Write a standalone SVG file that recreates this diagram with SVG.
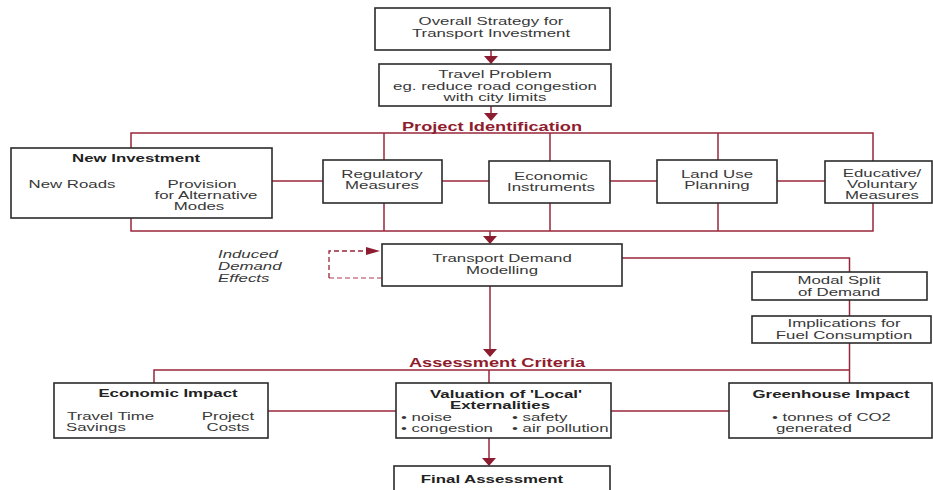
<svg xmlns="http://www.w3.org/2000/svg" width="933" height="490" viewBox="0 0 933 490">
<style>
  .box { fill: #ffffff; stroke: #2b2b2b; stroke-width: 1.6; }
  .ln { fill: none; stroke: #98263b; stroke-width: 1.5; }
  .dash { fill: none; stroke: #98263b; stroke-width: 1.3; stroke-dasharray: 5,3; }
  .dash2 { fill: none; stroke: #c77d8a; stroke-width: 1.3; stroke-dasharray: 5,3; }
  .ah { fill: #8c1c30; }
  text { font-family: "Liberation Sans", Arial, sans-serif; font-size: 11px; fill: #383838; }
  .m { text-anchor: middle; }
  .l { text-anchor: start; }
  .b { font-weight: bold; fill: #222222; }
  .hd { font-weight: bold; font-size: 12px; fill: #8f1d2e; text-anchor: middle; }
  .i { font-style: italic; }
</style>

<g id="connectors">
  <path class="ln" d="M491,50 V57"/>
  <polygon class="ah" points="484,56 498,56 491,64"/>
  <path class="ln" d="M491,106 V114"/>
  <polygon class="ah" points="484,113 498,113 491,121"/>
  <path class="ln" d="M131,148 V133 H873 V161"/>
  <path class="ln" d="M384,133 V160"/>
  <path class="ln" d="M550,133 V161"/>
  <path class="ln" d="M718,133 V160"/>
  <path class="ln" d="M272,181 H825"/>
  <path class="ln" d="M131,218 V231 H873 V203"/>
  <path class="ln" d="M384,203 V231"/>
  <path class="ln" d="M550,203 V231"/>
  <path class="ln" d="M718,203 V231"/>
  <path class="ln" d="M490,231 V237"/>
  <polygon class="ah" points="483,236 497,236 490,244"/>
  <path class="dash2" d="M382,278 H329"/>
  <path class="dash" d="M329,278 V251 H367"/>
  <polygon class="ah" points="366,247 366,255 380,251"/>
  <path class="ln" d="M490,286 V350"/>
  <polygon class="ah" points="483,349 497,349 490,357"/>
  <path class="ln" d="M622,258 H849.5 V272"/>
  <path class="ln" d="M849.5,300 V316"/>
  <path class="ln" d="M849.5,343 V383"/>
  <path class="ln" d="M154,383 V370 H849.5"/>
  <path class="ln" d="M489,370 V383"/>
  <path class="ln" d="M268,411 H396"/>
  <path class="ln" d="M611,411 H729"/>
  <path class="ln" d="M489,438 V459"/>
  <polygon class="ah" points="482,458 496,458 489,466"/>
</g>

<g id="overall-strategy">
  <rect class="box" x="375" y="8" width="235" height="42"/>
  <text class="m" transform="translate(491,25) scale(1.53,1)">Overall Strategy for</text>
  <text class="m" transform="translate(491,37) scale(1.53,1)">Transport Investment</text>
</g>

<g id="travel-problem">
  <rect class="box" x="379" y="64" width="232" height="42"/>
  <text class="m" transform="translate(495,78) scale(1.53,1)">Travel Problem</text>
  <text class="m" transform="translate(495,90) scale(1.53,1)">eg. reduce road congestion</text>
  <text class="m" transform="translate(495,101) scale(1.53,1)">with city limits</text>
</g>

<g id="project-identification">
  <text class="hd" transform="translate(492,131) scale(1.52,1)">Project Identification</text>
</g>

<g id="new-investment">
  <rect class="box" x="11" y="148" width="261" height="70"/>
  <text class="m b" transform="translate(136,162) scale(1.53,1)">New Investment</text>
  <text class="m" transform="translate(72,188) scale(1.53,1)">New Roads</text>
  <text class="m" transform="translate(202,188) scale(1.53,1)">Provision</text>
  <text class="m" transform="translate(206,199) scale(1.53,1)">for Alternative</text>
  <text class="m" transform="translate(199,210) scale(1.53,1)">Modes</text>
</g>

<g id="regulatory-measures">
  <rect class="box" x="323" y="160" width="119" height="43"/>
  <text class="m" transform="translate(382,178) scale(1.53,1)">Regulatory</text>
  <text class="m" transform="translate(382,189) scale(1.53,1)">Measures</text>
</g>

<g id="economic-instruments">
  <rect class="box" x="489" y="161" width="121" height="42"/>
  <text class="m" transform="translate(551,180) scale(1.53,1)">Economic</text>
  <text class="m" transform="translate(551,191) scale(1.53,1)">Instruments</text>
</g>

<g id="land-use-planning">
  <rect class="box" x="657" y="160" width="120" height="43"/>
  <text class="m" transform="translate(717,178) scale(1.53,1)">Land Use</text>
  <text class="m" transform="translate(717,189) scale(1.53,1)">Planning</text>
</g>

<g id="educative-voluntary">
  <rect class="box" x="825" y="161" width="107" height="42"/>
  <text class="m" transform="translate(882,177) scale(1.53,1)">Educative/</text>
  <text class="m" transform="translate(882,188) scale(1.53,1)">Voluntary</text>
  <text class="m" transform="translate(882,199) scale(1.53,1)">Measures</text>
</g>

<g id="induced-demand">
  <text class="l i" transform="translate(218,258) scale(1.53,1)">Induced</text>
  <text class="l i" transform="translate(218,270) scale(1.53,1)">Demand</text>
  <text class="l i" transform="translate(218,282) scale(1.53,1)">Effects</text>
</g>

<g id="transport-demand-modelling">
  <rect class="box" x="382" y="244" width="240" height="42"/>
  <text class="m" transform="translate(502,262) scale(1.53,1)">Transport Demand</text>
  <text class="m" transform="translate(502,274) scale(1.53,1)">Modelling</text>
</g>

<g id="modal-split">
  <rect class="box" x="752" y="272" width="175" height="28"/>
  <text class="m" transform="translate(839,284) scale(1.53,1)">Modal Split</text>
  <text class="m" transform="translate(839,296) scale(1.53,1)">of Demand</text>
</g>

<g id="fuel-consumption">
  <rect class="box" x="752" y="316" width="179" height="27"/>
  <text class="m" transform="translate(844,327) scale(1.53,1)">Implications for</text>
  <text class="m" transform="translate(844,339) scale(1.53,1)">Fuel Consumption</text>
</g>

<g id="assessment-criteria">
  <text class="hd" transform="translate(497,367) scale(1.52,1)">Assessment Criteria</text>
</g>

<g id="economic-impact">
  <rect class="box" x="54" y="383" width="214" height="55"/>
  <text class="m b" transform="translate(168,397) scale(1.53,1)">Economic Impact</text>
  <text class="l" transform="translate(67,420) scale(1.53,1)">Travel Time</text>
  <text class="l" transform="translate(66,431) scale(1.53,1)">Savings</text>
  <text class="m" transform="translate(228,420) scale(1.53,1)">Project</text>
  <text class="m" transform="translate(228,431) scale(1.53,1)">Costs</text>
</g>

<g id="local-externalities">
  <rect class="box" x="396" y="383" width="215" height="55"/>
  <text class="m b" transform="translate(506,398) scale(1.53,1)">Valuation of 'Local'</text>
  <text class="m b" transform="translate(500,409) scale(1.53,1)">Externalities</text>
  <text class="l" transform="translate(401,421) scale(1.53,1)">• noise</text>
  <text class="l" transform="translate(401,432) scale(1.53,1)">• congestion</text>
  <text class="l" transform="translate(512,421) scale(1.53,1)">• safety</text>
  <text class="l" transform="translate(512,432) scale(1.53,1)">• air pollution</text>
</g>

<g id="greenhouse-impact">
  <rect class="box" x="729" y="383" width="203" height="55"/>
  <text class="m b" transform="translate(831,398) scale(1.53,1)">Greenhouse Impact</text>
  <text class="l" transform="translate(772,421) scale(1.53,1)">• tonnes of CO2</text>
  <text class="l" transform="translate(776,432) scale(1.53,1)">generated</text>
</g>

<g id="final-assessment">
  <rect class="box" x="394" y="466" width="216" height="30"/>
  <text class="m b" transform="translate(492,483) scale(1.53,1)">Final Assessment</text>
</g>
</svg>
